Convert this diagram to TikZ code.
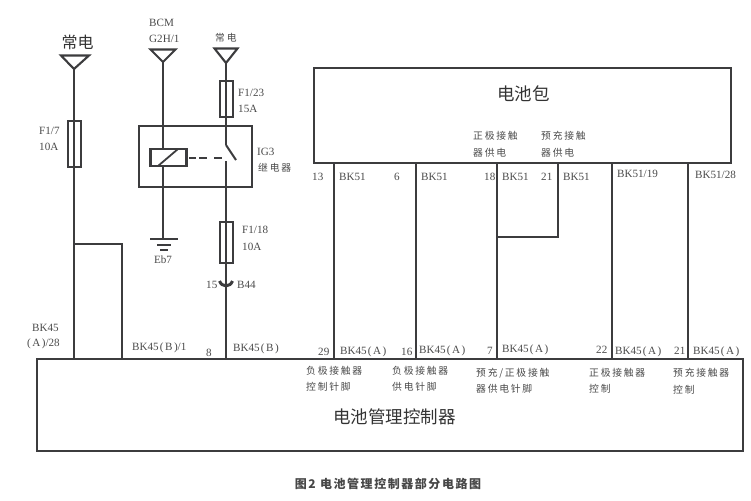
\documentclass[tikz,border=0pt]{standalone}
\usepackage{fontspec}
\setmainfont{Liberation Serif}
\newfontfamily\cjk{Noto Sans CJK SC}
\newfontfamily\cjksp[LetterSpace=18]{Noto Sans CJK SC}
\newfontfamily\cjkcap[LetterSpace=13]{Noto Sans CJK SC}
\newcommand{\BKA}{BK45\kern1.2pt(\kern1.5ptA\kern1.5pt)}
\newcommand{\BKB}{BK45\kern1.2pt(\kern1.5ptB\kern1.5pt)}
\definecolor{ink}{HTML}{3C3C3E}
\definecolor{txt}{HTML}{4A4A4A}
\tikzset{
  wire/.style={draw=ink,line width=2.4pt},
  thru/.style={draw=ink,line width=1.5pt},
  fusebox/.style={draw=ink,line width=2pt,minimum width=13pt,inner sep=0pt},
  bigbox/.style={draw=ink,line width=2.4pt,inner sep=0pt},
  ant/.style={draw=ink,line width=2.1pt,line join=miter,fill=white},
  relaybox/.style={draw=ink,line width=2.3pt,inner sep=0pt},
  lab/.style={anchor=west,inner sep=0pt,text=txt,font=\fontsize{11.1}{13}\selectfont},
  cn/.style={anchor=west,inner sep=0pt,text=txt,font=\fontsize{9.8}{12}\selectfont\cjksp},
  title/.style={inner sep=0pt,text=black!80,font=\fontsize{17.5}{20}\selectfont\cjk}
}
\begin{document}
\begin{tikzpicture}[x=1pt,y=-1pt]
\useasboundingbox (0,0) rectangle (751,500);
% main boxes
\node[bigbox,minimum width=417pt,minimum height=95pt] (batt) at (522.5,115.5) {};
\node[bigbox,minimum width=706pt,minimum height=92pt] (ctrl) at (390,405) {};
% feeder symbols
\coordinate (a1) at (74,69);
\coordinate (a2) at (163,62);
\coordinate (a3) at (226,63);
\draw[ant] (61,55.5) -- (89,55.5) -- (a1) -- cycle;
\draw[ant] (150.5,49.5) -- (175.5,49.5) -- (a2) -- cycle;
\draw[ant] (214.5,48.5) -- (237.5,48.5) -- (a3) -- cycle;
% relay
\node[relaybox,minimum width=113pt,minimum height=61pt] (relay) at (195.5,156.5) {};
\node[relaybox,minimum width=36pt,minimum height=17pt] (coil) at (168.5,157.5) {};
\draw[ink,line width=1.8pt] (158,166) -- (178,149);
% fuses
\node[fusebox,minimum height=46pt] (f17) at (74,144) {};
\node[fusebox,minimum height=36pt] (f123) at (226,99) {};
\node[fusebox,minimum height=41pt] (f118) at (226,242.5) {};
% left feed
\draw[wire] (a1) -- (f17.north);
\draw[thru] (f17.north) -- (f17.south);
\draw[wire] (f17.south) -- (f17.south |- ctrl.north);
\coordinate (br) at (74,244);
\coordinate (bx) at (122,244);
\draw[wire] (br) -- (bx) -- (bx |- ctrl.north);
% BCM feed and ground
\coordinate (g1) at (163,239);
\draw[wire] (a2) -- (a2 |- coil.north);
\draw[wire] (a2 |- coil.south) -- (g1);
\draw[ink,line width=2.2pt] (150,239) -- (178,239);
\draw[ink,line width=2.2pt] (157,245) -- (171,245);
\draw[ink,line width=2.2pt] (160,250) -- (168,250);
% right feed, switch
\coordinate (s1) at (226,145);
\coordinate (s2) at (236,160);
\coordinate (s3) at (226,161);
\coordinate (c15) at (226,282);
\draw[wire] (a3) -- (f123.north);
\draw[thru] (f123.north) -- (f123.south);
\draw[wire] (f123.south) -- (s1);
\draw[ink,line width=2pt] (s1) -- (s2);
\draw[wire] (s3) -- (f118.north);
\draw[thru] (f118.north) -- (f118.south);
\draw[wire] (f118.south) -- (c15) -- (c15 |- ctrl.north);
\draw[ink,line width=3pt] (219.5,281) .. controls (222,287.5) and (230,287.5) .. (232.5,281);
\draw[ink,line width=2.2pt,dash pattern=on 6.5pt off 3.5pt on 8pt off 7pt on 9pt off 0pt] (189,158) -- (222,158);
% battery wires
\foreach \n/\x in {w1/334,w2/416,w3/497,w5/612,w6/688}{
  \coordinate (\n) at (\x,163);
  \draw[wire] (\n) -- (\n |- ctrl.north);
}
\coordinate (w4) at (558,163);
\coordinate (j3) at (497,237);
\draw[wire] (w4) -- (w4 |- j3) -- (j3);
% large titles
\node[title,font=\fontsize{16}{18}\selectfont\cjk] (t0) at (77.5,42) {常电};
\node[title] (t1) at (523.5,94) {电池包};
\node[title] (t2) at (394.5,417) {电池管理控制器};
\node[inner sep=0pt,text=black!72,font=\fontsize{12}{14}\selectfont\cjkcap\bfseries] (t3) at (388,484) {图2 电池管理控制器部分电路图};
% top labels
\node[cn] (l1) at (215,38) {常电};
\node[lab] (l2) at (149,23) {BCM};
\node[lab] (l3) at (149,39) {G2H/1};
\node[lab] (l4) at (39,131) {F1/7};
\node[lab] (l5) at (39,147) {10A};
\node[lab] (l6) at (238,93) {F1/23};
\node[lab] (l7) at (238,109) {15A};
\node[lab] (l8) at (257,152) {IG3};
\node[cn] (l9) at (258,168) {继电器};
\node[lab] (l10) at (242,230) {F1/18};
\node[lab] (l11) at (242,247) {10A};
\node[lab,anchor=center] (l12) at (163,260) {Eb7};
\node[lab] (l13) at (206,285) {15};
\node[lab] (l14) at (237,285) {B44};
% battery labels
\node[cn] (b1) at (473,136) {正极接触};
\node[cn] (b2) at (473,153) {器供电};
\node[cn] (b3) at (541,136) {预充接触};
\node[cn] (b4) at (541,153) {器供电};
\node[lab] (p1) at (312,177) {13};
\node[lab] (p2) at (339,177) {BK51};
\node[lab] (p3) at (394,177) {6};
\node[lab] (p4) at (421,177) {BK51};
\node[lab] (p5) at (484,177) {18};
\node[lab] (p6) at (502,177) {BK51};
\node[lab] (p7) at (541,177) {21};
\node[lab] (p8) at (563,177) {BK51};
\node[lab] (p9) at (617,174) {BK51/19};
\node[lab] (p10) at (695,175) {BK51/28};
% controller labels
\node[lab] (k1) at (32,328) {BK45};
\node[lab] (k2) at (27,344) {(\kern1.5ptA\kern1.5pt)/28};
\node[lab] (k3) at (132,348) {\BKB/1};
\node[lab,anchor=center] (k4) at (209,353) {8};
\node[lab] (k5) at (233,349) {\BKB};
\node[lab] (k6) at (318,352) {29};
\node[lab] (k7) at (340,352) {\BKA};
\node[lab] (k8) at (401,352) {16};
\node[lab] (k9) at (419,351) {\BKA};
\node[lab] (k10) at (487,351) {7};
\node[lab] (k11) at (502,350) {\BKA};
\node[lab] (k12) at (596,350) {22};
\node[lab] (k13) at (615,352) {\BKA};
\node[lab] (k14) at (674,351) {21};
\node[lab] (k15) at (693,352) {\BKA};
\node[cn] (c1) at (306,371) {负极接触器};
\node[cn] (c2) at (306,387) {控制针脚};
\node[cn] (c3) at (392,371) {负极接触器};
\node[cn] (c4) at (392,387) {供电针脚};
\node[cn] (c5) at (476,373) {预充/正极接触};
\node[cn] (c6) at (476,389) {器供电针脚};
\node[cn] (c7) at (589,373) {正极接触器};
\node[cn] (c8) at (589,389) {控制};
\node[cn] (c9) at (673,373) {预充接触器};
\node[cn] (c10) at (673,390) {控制};
\end{tikzpicture}
\end{document}
